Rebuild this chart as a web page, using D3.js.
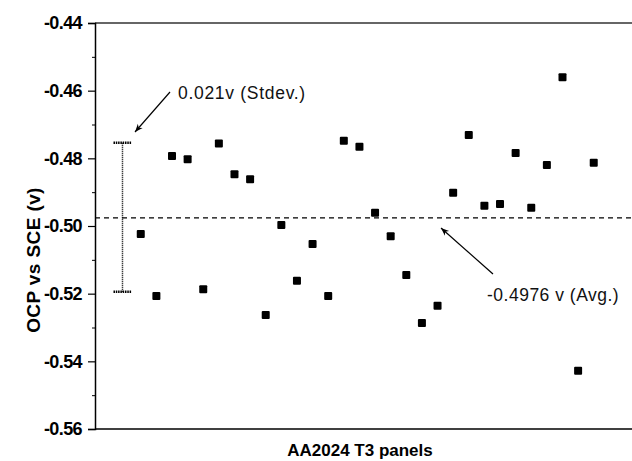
<!DOCTYPE html>
<html>
<head>
<meta charset="utf-8">
<script src="https://cdn.jsdelivr.net/npm/d3@7"></script>
<style>
  body { margin: 0; background: #ffffff; }
  svg { display: block; }
</style>
</head>
<body>
<div id="container"></div>
<script>
let w = 632;
let h = 461;

// one OCP reading per panel
let panels = [1,2,3,4,5,6,7,8,9,10,11,12,13,14,15,16,17,18,19,20,21,22,23,24,25,26,27,28,29,30];
let ocp = [-0.5024,-0.5207,-0.4793,-0.4803,-0.5187,-0.4756,-0.4847,-0.4862,-0.5263,-0.4997,
           -0.5162,-0.5053,-0.5207,-0.4748,-0.4766,-0.4961,-0.5030,-0.5145,-0.5287,-0.5236,
           -0.4902,-0.4731,-0.4940,-0.4935,-0.4784,-0.4946,-0.4820,-0.4560,-0.5428,-0.4813];

let avg = [-0.4976];
// error bar ends (avg +/- stdev as drawn)
let errBar = [-0.4754, -0.5194];
let errPos = [-0.17];

let yTicks = [-0.44,-0.46,-0.48,-0.50,-0.52,-0.54,-0.56];
let yMinor = [-0.45,-0.47,-0.49,-0.51,-0.53,-0.55];

let labels = ["0.021v (Stdev.)", "-0.4976 v (Avg.)"];

let padLeft = 95;
let padTop = 23;
let padBottom = 429;

let viz = d3.select("#container")
  .append("svg")
    .attr("width", w)
    .attr("height", h)
    .style("background-color", "#ffffff");

// x is just the panel index, no labels on it
let xScale = d3.scaleLinear().domain([-1.93, 32.45]).range([padLeft, w]);
let yScale = d3.scaleLinear().domain([-0.56, -0.44]).range([padBottom, padTop]);

// arrow head
viz.append("defs").append("marker")
    .attr("id", "arrow")
    .attr("viewBox", "0 0 10 10")
    .attr("refX", 10)
    .attr("refY", 5)
    .attr("markerWidth", 14)
    .attr("markerHeight", 8)
    .attr("markerUnits", "userSpaceOnUse")
    .attr("orient", "auto")
  .append("path")
    .attr("d", "M0,1 L10,5 L0,9 L3,5 Z")
    .attr("fill", "#000");

// frame: top line
viz.append("line")
    .attr("x1", padLeft).attr("x2", w)
    .attr("y1", padTop).attr("y2", padTop)
    .attr("stroke", "#333").attr("stroke-width", 1.5);

// bottom axis line
viz.append("line")
    .attr("x1", padLeft).attr("x2", w)
    .attr("y1", padBottom).attr("y2", padBottom)
    .attr("stroke", "#000").attr("stroke-width", 1.5);

// y axis (plain hyphen for the minus, like the original)
let yAxis = d3.axisLeft(yScale)
    .tickValues(yTicks)
    .tickSize(7)
    .tickPadding(6)
    .tickFormat(function(d){ return d.toFixed(2); });
let yAxisGroup = viz.append("g").attr("class", "yaxis")
    .attr("transform", "translate(" + padLeft + ",0)")
    .call(yAxis);
yAxisGroup.select(".domain").attr("stroke-width", 1.5);
yAxisGroup.selectAll(".tick line").attr("stroke-width", 1.2);
yAxisGroup.selectAll("text")
    .attr("font-family", "'Liberation Sans', Arial, sans-serif")
    .attr("font-size", 18)
    .attr("font-weight", "bold")
    .attr("letter-spacing", -0.6)
    .attr("fill", "#000");

// minor ticks
let minorAxis = d3.axisLeft(yScale).tickValues(yMinor).tickSize(3).tickFormat("");
let minorGroup = viz.append("g")
    .attr("transform", "translate(" + padLeft + ",0)")
    .call(minorAxis);
minorGroup.select(".domain").remove();

// axis titles
viz.append("text")
    .attr("x", 360)
    .attr("y", 456)
    .attr("text-anchor", "middle")
    .attr("font-family", "'Liberation Sans', Arial, sans-serif")
    .attr("font-size", 17)
    .attr("font-weight", "bold")
    .text("AA2024 T3 panels");

viz.append("text")
    .attr("transform", "translate(40,260) rotate(-90)")
    .attr("text-anchor", "middle")
    .attr("font-family", "'Liberation Sans', Arial, sans-serif")
    .attr("font-size", 19)
    .attr("font-weight", "bold")
    .attr("letter-spacing", 0.4)
    .text("OCP vs SCE (v)");

// average line
viz.append("line")
    .attr("x1", padLeft).attr("x2", w)
    .attr("y1", yScale(avg[0])).attr("y2", yScale(avg[0]))
    .attr("stroke", "#000")
    .attr("stroke-width", 1.3)
    .attr("stroke-dasharray", "5,4");

// stdev error bar
let ex = xScale(errPos[0]);
viz.append("line")
    .attr("x1", ex).attr("x2", ex)
    .attr("y1", yScale(errBar[0])).attr("y2", yScale(errBar[1]))
    .attr("stroke", "#000")
    .attr("stroke-width", 1.5)
    .attr("stroke-dasharray", "1,1");
viz.selectAll(".cap").data(errBar).enter()
  .append("line")
    .attr("class", "cap")
    .attr("x1", ex - 9).attr("x2", ex + 9)
    .attr("y1", function(d){ return yScale(d); })
    .attr("y2", function(d){ return yScale(d); })
    .attr("stroke", "#000")
    .attr("stroke-width", 2.5)
    .attr("stroke-dasharray", "1.5,0.8");

// data points
viz.selectAll(".pt").data(ocp).enter()
  .append("rect")
    .attr("class", "pt")
    .attr("x", function(d, i){ return xScale(panels[i]) - 4; })
    .attr("y", function(d){ return yScale(d) - 4; })
    .attr("width", 8)
    .attr("height", 8)
    .attr("rx", 1)
    .attr("fill", "#000");

// annotations
viz.append("line")
    .attr("x1", 170).attr("y1", 92)
    .attr("x2", 135).attr("y2", 132)
    .attr("stroke", "#000").attr("stroke-width", 1.2)
    .attr("marker-end", "url(#arrow)");
viz.append("text")
    .attr("x", 178)
    .attr("y", 99)
    .attr("font-family", "'Liberation Sans', Arial, sans-serif")
    .attr("font-size", 17.5)
    .attr("letter-spacing", 0.7)
    .attr("fill", "#111")
    .text(labels[0]);

viz.append("line")
    .attr("x1", 493).attr("y1", 274)
    .attr("x2", 441).attr("y2", 228)
    .attr("stroke", "#000").attr("stroke-width", 1.2)
    .attr("marker-end", "url(#arrow)");
viz.append("text")
    .attr("x", 487)
    .attr("y", 301)
    .attr("font-family", "'Liberation Sans', Arial, sans-serif")
    .attr("font-size", 17.5)
    .attr("letter-spacing", 0.5)
    .attr("fill", "#111")
    .text(labels[1]);
</script>
</body>
</html>
